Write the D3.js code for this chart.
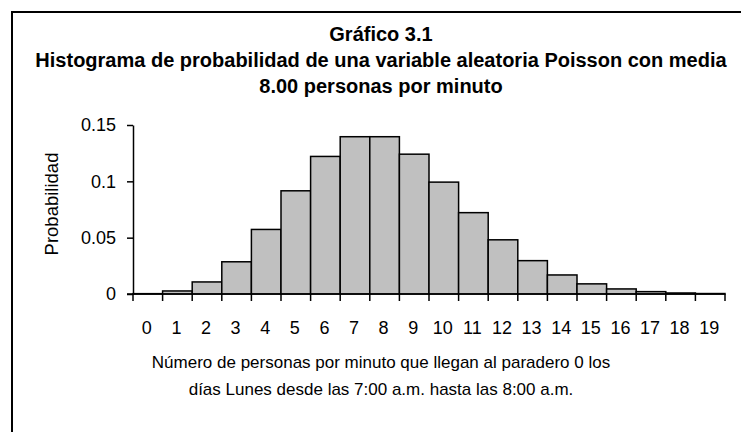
<!DOCTYPE html>
<html><head><meta charset="utf-8">
<script src="https://cdn.jsdelivr.net/npm/d3@7"></script>
<style>body{margin:0;background:#fff}svg{display:block}text{font-family:"Liberation Sans",Arial,sans-serif;fill:#000}</style>
</head><body>
<svg id="c" width="741" height="432"></svg>
<script>
const categories = ["0","1","2","3","4","5","6","7","8","9","10","11","12","13","14","15","16","17","18","19"];
const probabilities = [0.0003,0.0027,0.0107,0.0286,0.0573,0.0916,0.1221,0.1396,0.1396,0.1241,0.0993,0.0722,0.0481,0.0296,0.0169,0.0090,0.0045,0.0021,0.0009,0.0004];
const yTicks = [0,0.05,0.1,0.15];
const titleLines = ["Gráfico 3.1","Histograma de probabilidad de una variable aleatoria Poisson con media","8.00 personas por minuto"];
const xTitleLines = ["Número de personas por minuto que llegan al paradero 0 los","días Lunes desde las 7:00 a.m. hasta las 8:00 a.m."];
const yTitle = "Probabilidad";

const svg = d3.select("#c");
svg.append("rect").attr("x",12).attr("y",12).attr("width",740).attr("height",440)
  .attr("fill","none").attr("stroke","#000").attr("stroke-width",2);

const x = d3.scaleBand().domain(categories).range([133,725]).padding(0);
const y = d3.scaleLinear().domain([0,0.15]).range([294,125]);

svg.append("g").selectAll("rect").data(probabilities).join("rect")
  .attr("x",(d,i)=>x(categories[i])).attr("width",x.bandwidth())
  .attr("y",d=>y(d)).attr("height",d=>y(0)-y(d))
  .attr("fill","#c0c0c0").attr("stroke","#000").attr("stroke-width",1.5);

// y axis
const ya = svg.append("g").attr("transform","translate(133,0)")
  .call(d3.axisLeft(y).tickValues(yTicks).tickFormat(d=>String(d)).tickSizeInner(6).tickSizeOuter(0).tickPadding(11));
ya.select(".domain").attr("stroke-width",1.5);
ya.selectAll(".tick line").attr("stroke-width",1.5);
ya.selectAll("text").attr("font-size",18).attr("font-family","Liberation Sans");

// x axis: ticks at category boundaries
const xa = svg.append("g").attr("transform","translate(0,294)");
xa.append("line").attr("x1",x.range()[0]-6).attr("x2",x.range()[1]).attr("stroke","#000").attr("stroke-width",1.5);
const bounds = categories.map(c=>x(c)).concat([x.range()[1]]);
xa.selectAll("line.t").data(bounds).join("line").attr("class","t")
  .attr("x1",d=>d).attr("x2",d=>d).attr("y1",0).attr("y2",7).attr("stroke","#000").attr("stroke-width",1.5);
xa.selectAll("text").data(categories).join("text")
  .attr("x",d=>x(d)+x.bandwidth()/2-1).attr("y",40).attr("text-anchor","middle")
  .attr("font-size",18).text(d=>d);

// titles
svg.append("g").selectAll("text").data(titleLines).join("text")
  .attr("x",381).attr("y",(d,i)=>41+i*25.8).attr("text-anchor","middle")
  .attr("font-weight","bold").attr("font-size",20).text(d=>d);
svg.append("g").selectAll("text").data(xTitleLines).join("text")
  .attr("x",381).attr("y",(d,i)=>368+i*27).attr("text-anchor","middle")
  .attr("font-size",17).text(d=>d);
svg.append("text").attr("transform","translate(58,204) rotate(-90)").attr("text-anchor","middle")
  .attr("font-size",18.5).text(yTitle);
</script>
</body></html>
